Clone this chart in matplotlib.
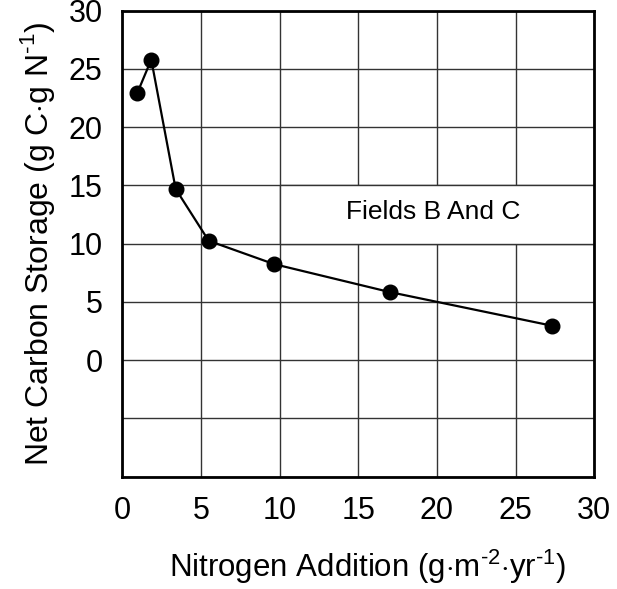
import matplotlib

matplotlib.use("Agg")
import matplotlib.pyplot as plt
from matplotlib.patches import Rectangle

# values
n_addition = [0.95, 1.85, 3.4, 5.5, 9.65, 17.0, 27.35]
carbon_storage = [22.9, 25.8, 14.7, 10.25, 8.25, 5.85, 2.95]
x_ticks = [0, 5, 10, 15, 20, 25, 30]
y_ticks = [-10, -5, 0, 5, 10, 15, 20, 25, 30]
y_tick_labels = ["", "", "0", "5", "10", "15", "20", "25", "30"]

plt.rcParams["font.family"] = ["Liberation Sans", "DejaVu Sans"]
plt.rcParams["mathtext.fontset"] = "custom"
plt.rcParams["mathtext.rm"] = "Liberation Sans"

fig = plt.figure(figsize=(6.17, 5.89), dpi=100)
ax = fig.add_axes([0.198, 0.1907, 0.765, 0.7911])

ax.set_xlim(0, 30)
ax.set_ylim(-10, 30)
ax.set_xticks(x_ticks)
ax.set_yticks(y_ticks)
ax.set_yticklabels(y_tick_labels)
ax.tick_params(length=0, labelsize=22, pad=14)
ax.grid(True, color="#333333", linewidth=1.0)
ax.set_axisbelow(True)
for spine in ax.spines.values():
    spine.set_linewidth(2.0)

# white box behind the label, edges redrawn like grid lines
ax.add_patch(Rectangle((10, 10), 20, 5, facecolor="white", edgecolor="#333333",
                       linewidth=1.0, zorder=1))

ax.plot(n_addition, carbon_storage, color="black", linewidth=1.6,
        marker="o", markersize=10.5, zorder=3)

ax.text(19.75, 12.7, "Fields B And C", fontsize=19, ha="center", va="center", zorder=4)

ax.set_xlabel(r"Nitrogen Addition (g$\cdot$m$^{\text{-2}}$$\cdot$yr$^{\text{-1}}$)",
              fontsize=22.5)
ax.set_ylabel(r"Net Carbon Storage (g C$\cdot$g N$^{\text{-1}}$)", fontsize=23)
ax.xaxis.set_label_coords(0.52, -0.194)
ax.xaxis.label.set_va("center")
ax.yaxis.set_label_coords(-0.179, 0.5)
ax.yaxis.label.set_va("center")

fig.savefig("out.png", dpi=100)
plt.close(fig)
